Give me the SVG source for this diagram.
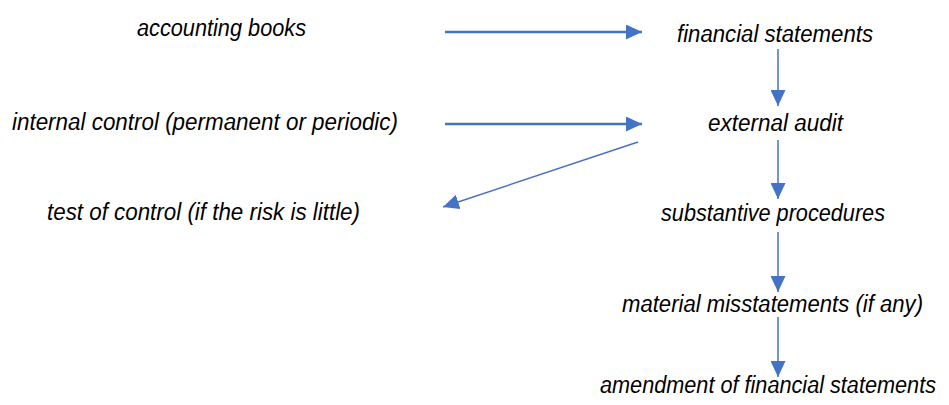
<svg xmlns="http://www.w3.org/2000/svg" width="949" height="405" viewBox="0 0 949 405">
<style>
text{font-family:"Liberation Sans",Arial,sans-serif;font-style:italic;font-size:23px;fill:#000}
.c{stroke:#4472C4;fill:none}
.h{stroke-width:2.5}
.v{stroke-width:1.5}
</style>
<defs>
<marker id="ah" markerUnits="userSpaceOnUse" markerWidth="16" markerHeight="15" refX="16" refY="7.5" orient="auto" viewBox="0 0 16 15">
<path d="M0,0 L16,7.5 L0,15 z" fill="#4472C4"/>
</marker>
</defs>
<rect width="949" height="405" fill="#fff"/>
<g id="n-accounting"><text x="137" y="36" textLength="169" lengthAdjust="spacingAndGlyphs">accounting books</text></g>
<g id="n-financial"><text x="677" y="42" textLength="196" lengthAdjust="spacingAndGlyphs">financial statements</text></g>
<g id="n-internal"><text x="12" y="130" textLength="386" lengthAdjust="spacingAndGlyphs">internal control (permanent or periodic)</text></g>
<g id="n-external"><text x="708" y="131" textLength="135" lengthAdjust="spacingAndGlyphs">external audit</text></g>
<g id="n-test"><text x="47" y="220" textLength="313" lengthAdjust="spacingAndGlyphs">test of control (if the risk is little)</text></g>
<g id="n-substantive"><text x="661" y="221" textLength="224" lengthAdjust="spacingAndGlyphs">substantive procedures</text></g>
<g id="n-material"><text x="622" y="312" textLength="301" lengthAdjust="spacingAndGlyphs">material misstatements (if any)</text></g>
<g id="n-amendment"><text x="600" y="393" font-size="20.5" textLength="336" lengthAdjust="spacingAndGlyphs">amendment of financial statements</text></g>
<g id="connectors">
<line class="c h" x1="445" y1="32" x2="642" y2="32" marker-end="url(#ah)"/>
<line class="c h" x1="445" y1="124" x2="642" y2="124" marker-end="url(#ah)"/>
<line class="c v" x1="778" y1="49" x2="778" y2="106" marker-end="url(#ah)"/>
<line class="c v" x1="778" y1="140" x2="778" y2="199" marker-end="url(#ah)"/>
<line class="c v" x1="638" y1="142" x2="443" y2="207" marker-end="url(#ah)"/>
<line class="c v" x1="778" y1="232" x2="778" y2="292" marker-end="url(#ah)"/>
<line class="c v" x1="778" y1="317" x2="778" y2="377" marker-end="url(#ah)"/>
</g>
</svg>
